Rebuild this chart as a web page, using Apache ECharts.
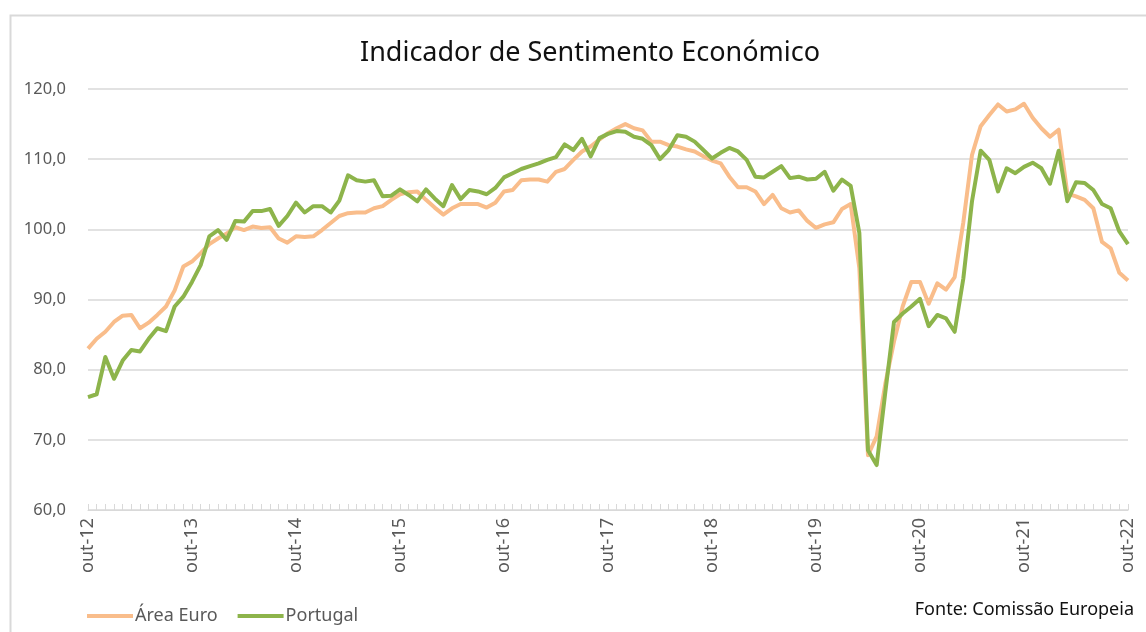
<!DOCTYPE html>
<html>
<head>
<meta charset="utf-8">
<script src="https://cdn.jsdelivr.net/npm/echarts@6/dist/echarts.min.js"></script>
<style>
html,body{margin:0;padding:0;background:#fff;}
#chart{width:1146px;height:632px;}
</style>
</head>
<body>
<div id="chart"></div>
<script>
// Monthly labels: out-12 .. out-22
const monthNames = ['jan','fev','mar','abr','mai','jun','jul','ago','set','out','nov','dez'];
const startYear = 2012, startMonth = 9, nMonths = 121;
const categories = [];
for (let k = 0; k < nMonths; k++) {
  const m = (startMonth + k) % 12;
  const y = startYear + Math.floor((startMonth + k) / 12);
  categories.push(monthNames[m] + '-' + String(y % 100).padStart(2, '0'));
}

const areaEuro = [
  83.0, 84.4, 85.4, 86.8, 87.7, 87.8, 85.9, 86.7, 87.8, 89.0, 91.3, 94.7,
  95.4, 96.6, 97.9, 98.7, 99.4, 100.3, 99.9, 100.4, 100.2, 100.3, 98.7, 98.1,
  99.0, 98.9, 99.0, 99.9, 100.9, 101.9, 102.3, 102.4, 102.4, 103.0, 103.3, 104.2,
  105.0, 105.3, 105.4, 104.2, 103.1, 102.1, 103.0, 103.6, 103.6, 103.6, 103.1, 103.8,
  105.4, 105.6, 107.0, 107.1, 107.1, 106.8, 108.2, 108.6, 109.9, 111.1, 111.8, 112.8,
  113.7, 114.4, 115.0, 114.4, 114.1, 112.5, 112.5, 112.0, 111.8, 111.4, 111.1, 110.4,
  109.8, 109.4, 107.5, 106.0, 106.0, 105.4, 103.6, 104.9, 103.0, 102.4, 102.7, 101.2,
  100.2, 100.7, 101.0, 102.9, 103.6, 94.5, 67.8, 70.5, 78.0, 84.0, 89.0, 92.5,
  92.5, 89.4, 92.3, 91.4, 93.2, 101.0, 110.6, 114.7, 116.3, 117.8, 116.8, 117.1,
  117.9, 115.9, 114.4, 113.2, 114.2, 105.1, 104.7, 104.2, 103.0, 98.2, 97.3, 93.8,
  92.7
];

const portugal = [
  76.1, 76.5, 81.8, 78.7, 81.3, 82.8, 82.6, 84.4, 85.9, 85.5, 89.0, 90.4,
  92.5, 94.9, 99.0, 99.9, 98.5, 101.2, 101.1, 102.6, 102.6, 102.9, 100.5, 101.9,
  103.8, 102.4, 103.3, 103.3, 102.4, 104.1, 107.7, 107.0, 106.8, 107.0, 104.7, 104.8,
  105.7, 104.9, 104.0, 105.7, 104.4, 103.3, 106.3, 104.3, 105.6, 105.4, 105.0, 105.9,
  107.4, 108.0, 108.6, 109.0, 109.4, 109.9, 110.3, 112.1, 111.3, 112.9, 110.4, 113.0,
  113.6, 114.0, 113.9, 113.2, 112.9, 112.0, 110.0, 111.3, 113.4, 113.2, 112.5, 111.3,
  110.1, 110.9, 111.6, 111.1, 109.9, 107.5, 107.4, 108.2, 109.0, 107.3, 107.5, 107.1,
  107.2, 108.2, 105.5, 107.1, 106.2, 99.5, 68.5, 66.4, 76.8, 86.8, 88.0, 89.0,
  90.1, 86.2, 87.8, 87.3, 85.4, 93.0, 104.0, 111.2, 109.9, 105.4, 108.7, 108.0,
  108.9, 109.5, 108.7, 106.5, 111.2, 104.0, 106.7, 106.6, 105.6, 103.6, 103.0, 99.7,
  97.9
];

const titleText = 'Indicador de Sentimento Económico';
const sourceText = 'Fonte: Comissão Europeia';
const seriesNames = ['Área Euro', 'Portugal'];

const chart = echarts.init(document.getElementById('chart'), null, {renderer: 'canvas'});
const FONT = 'Noto Sans';
chart.setOption({
  animation: false,
  backgroundColor: '#fff',
  title: {
    text: titleText,
    left: 355,
    top: 35,
    textStyle: {fontFamily: FONT, fontSize: 27, fontWeight: 'normal', color: '#111'}
  },
  legend: {
    left: 82,
    top: 602,
    itemWidth: 46,
    itemHeight: 4,
    itemGap: 20,
    icon: 'rect',
    textStyle: {fontFamily: FONT, fontSize: 18, color: '#595959', padding: [0, 0, 0, -3]},
    data: seriesNames
  },
  graphic: [
    {type: 'rect', left: 8, top: 13, silent: true,
     shape: {width: 1300, height: 800},
     style: {fill: 'none', stroke: '#d9d9d9', lineWidth: 2}},
    {type: 'text', right: 12, top: 601, silent: true,
     style: {text: sourceText, font: '18px "Noto Sans"', fill: '#111'}}
  ],
  grid: {left: 88, right: 18, top: 89, bottom: 122, containLabel: false},
  xAxis: {
    type: 'category',
    data: categories,
    boundaryGap: false,
    axisLine: {lineStyle: {color: '#d9d9d9', width: 1}},
    axisTick: {show: true, interval: 0, inside: true, length: 6, lineStyle: {color: '#d9d9d9'}},
    axisLabel: {interval: 11, rotate: 90, margin: 8, fontFamily: FONT, fontSize: 18, color: '#595959'},
    splitLine: {show: false}
  },
  yAxis: {
    type: 'value',
    min: 60, max: 120, interval: 10,
    axisLine: {show: false},
    axisTick: {show: false},
    axisLabel: {margin: 22, fontFamily: FONT, fontSize: 16.5, color: '#595959',
      formatter: v => v.toFixed(1).replace('.', ',')},
    splitLine: {lineStyle: {color: '#d9d9d9', width: 1.5}}
  },
  series: [
    {name: seriesNames[0], type: 'line', data: areaEuro, symbol: 'none',
     lineStyle: {width: 4, color: '#F9BD8B', join: 'round'}, itemStyle: {color: '#F9BD8B'}},
    {name: seriesNames[1], type: 'line', data: portugal, symbol: 'none',
     lineStyle: {width: 4, color: '#8DB44B', join: 'round'}, itemStyle: {color: '#8DB44B'}}
  ]
});
</script>
</body>
</html>
